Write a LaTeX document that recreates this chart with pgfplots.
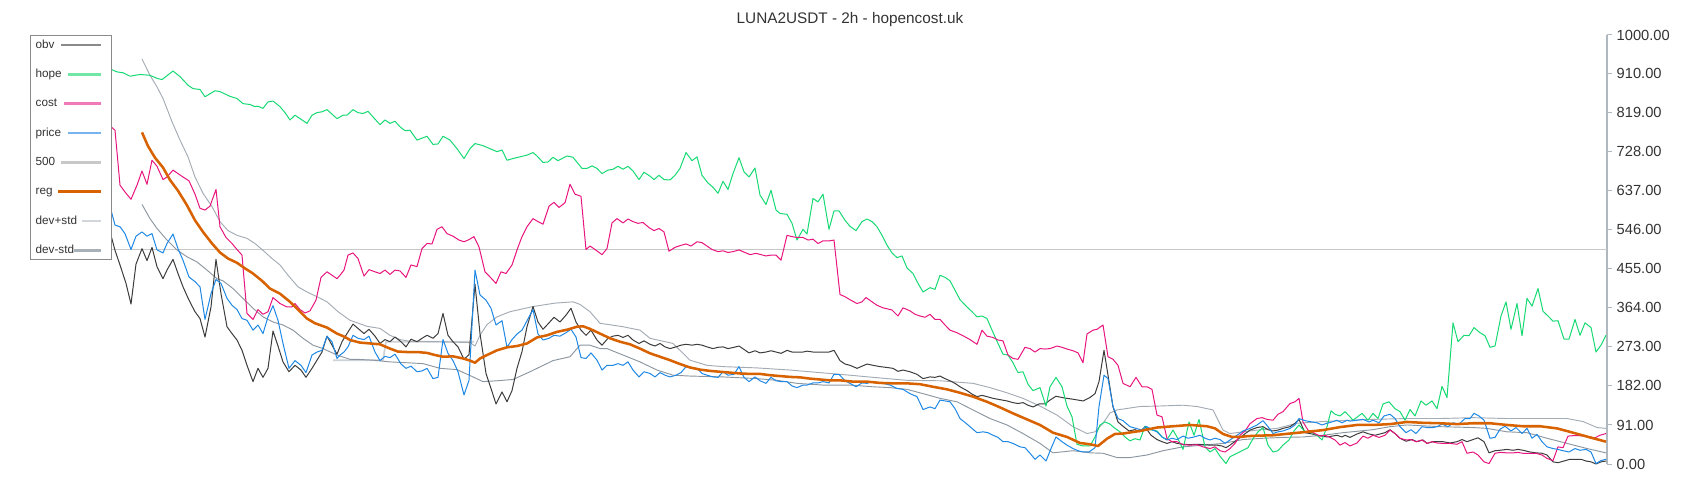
\documentclass[border=0pt]{standalone}
\usepackage{pgfplots}
\pgfplotsset{compat=1.18}
\usepackage{fontspec}
\setmainfont{Liberation Sans}

\definecolor{obvc}{HTML}{3C3C3C}
\definecolor{hopec}{HTML}{17D973}
\definecolor{costc}{HTML}{E8157F}
\definecolor{pricec}{HTML}{1E88E5}
\definecolor{regc}{HTML}{D96200}
\definecolor{fivec}{HTML}{C8C8C8}
\definecolor{upc}{HTML}{A3ABB3}
\definecolor{dnc}{HTML}{8C96A0}
\definecolor{midc}{HTML}{CDD2D7}
\definecolor{axisc}{HTML}{B0B8BF}
\definecolor{textc}{HTML}{333333}
\definecolor{legc}{HTML}{8A8A8A}
% lighter legend samples
\definecolor{obvl}{HTML}{8A8A8A}
\definecolor{hopel}{HTML}{72E6A4}
\definecolor{costl}{HTML}{EF7AB7}
\definecolor{pricel}{HTML}{77B3EE}
\definecolor{upl}{HTML}{D2D6DA}
\definecolor{dnl}{HTML}{A9B1B8}

% legend sample: line drawn to the right of the label, ending at a fixed x
\pgfplotsset{
  legline/.style 2 args={legend image code/.code={%
    \draw[line width=2pt,#1,overlay] (-#2,0pt) -- (0pt,0pt);
    \path[draw=none,fill=none] (0pt,-1pt) rectangle (4.3pt,1pt);}},
}

\begin{document}
\begin{tikzpicture}
\path[use as bounding box] (0pt,-27pt) rectangle (1275pt,348pt);
\begin{axis}[
  at={(0pt,0pt)}, anchor=south west,
  scale only axis, width=1205.25pt, height=321.75pt,
  xmin=0, xmax=1607, ymin=0, ymax=1000,
  axis x line=none, axis y line*=right,
  y axis line style={draw=axisc, line width=1.1pt, -},
  ytick={0,91,182,273,364,455,546,637,728,819,910,1000},
  yticklabels={0.00,91.00,182.00,273.00,364.00,455.00,546.00,637.00,728.00,819.00,910.00,1000.00},
  tick align=outside, major tick length=3.75pt,
  ytick style={draw=axisc, line width=0.75pt},
  yticklabel style={font=\fontsize{11}{13}\selectfont, text=textc, anchor=west},
  clip=false,
  legend cell align=left, legend plot pos=right,
  legend style={at={(0.0187,1.0)}, anchor=north west, draw=legc, line width=0.9pt,
    fill=white, inner xsep=3.75pt, inner ysep=2.85pt, row sep=13.7pt, column sep=18pt,
    font=\fontsize{8.8}{10}\selectfont, text=textc,
    nodes={inner sep=0pt, text height=6.5pt, text depth=1.8pt}},
  every axis plot/.append style={line join=round},
]
% horizontal 500 level
\addplot[fivec, line width=1.2pt, forget plot] coordinates {(96,500) (1607,500)};

% light step line
\addplot[midc, line width=1.3pt, forget plot] coordinates {
(333,242) (383,242) (386,285) (474,285)};

% upper band
\addplot[upc, line width=0.7pt, forget plot] coordinates {
(142,944) (150,906) (157,879) (163,852) (172,798) (180,755) (188,716) (195,669)
(203,631) (212,600) (220,565) (228,544) (237,533) (247,526) (255,514) (263,498)
(272,479) (280,464) (288,440) (298,413) (307,401) (317,390) (327,378) (338,355)
(350,335) (367,321) (380,316) (390,300) (400,290) (410,286) (440,285) (470,283)
(475,275) (480,300) (487,325) (497,343) (510,355) (533,367) (555,375) (573,378)
(580,372) (590,355) (600,328) (623,320) (640,312) (650,293) (673,281) (690,242)
(707,230) (723,227) (757,224) (790,219) (850,207) (873,202) (907,195) (940,194)
(973,188) (990,178) (1007,166) (1023,153) (1040,135) (1057,114) (1073,87) (1087,71)
(1095,75) (1103,95) (1110,119) (1117,126) (1140,134) (1157,135) (1183,137) (1197,134)
(1213,126) (1223,79) (1230,71) (1243,75) (1257,79) (1277,83) (1297,95) (1323,99)
(1350,102) (1373,104) (1407,106) (1440,106) (1473,108) (1507,106) (1540,106) (1567,106)
(1583,99) (1597,85) (1606,83)};

% lower band
\addplot[dnc, line width=0.7pt, forget plot] coordinates {
(142,605) (150,572) (157,549) (167,522) (177,499) (187,483) (197,471) (207,452)
(217,432) (223,427) (233,409) (243,386) (253,363) (263,343) (273,331) (283,324)
(293,312) (303,293) (313,277) (323,269) (337,254) (350,244) (357,244) (373,242)
(390,238) (407,236) (423,234) (440,223) (457,220) (473,203) (483,192) (497,194)
(513,197) (530,215) (553,241) (570,250) (580,277) (590,277) (600,269) (607,269)
(623,254) (640,238) (657,219) (673,207) (690,205) (723,203) (757,199) (777,195)
(797,188) (823,184) (850,184) (873,180) (890,178) (907,174) (923,164) (940,153)
(957,145) (973,126) (990,106) (1007,91) (1023,71) (1040,48) (1053,26) (1073,31)
(1090,26) (1103,25) (1117,15) (1130,15) (1147,21) (1163,31) (1183,40) (1203,44)
(1223,48) (1243,57) (1263,60) (1283,62) (1303,63) (1323,67) (1343,73) (1373,80)
(1390,87) (1407,91) (1440,87) (1473,85) (1487,83) (1507,75) (1527,73) (1547,60)
(1567,48) (1587,36) (1606,26)};

% obv
\addplot[obvc, line width=0.75pt, forget plot] coordinates {
(96,610) (103,575) (111,533) (115,498) (120,464) (126,421) (131,373) (136,466)
(142,502) (147,474) (152,505) (157,460) (163,432) (167,452) (173,477) (178,444)
(183,413) (189,382) (195,355) (200,339) (205,296) (211,366) (216,477) (221,397)
(227,320) (232,304) (237,289) (242,265) (247,230) (253,192) (258,223) (263,202)
(268,223) (273,310) (278,275) (283,238) (289,215) (295,230) (301,219) (306,202)
(312,223) (317,242) (322,261) (327,298) (332,277) (337,256) (342,285) (347,304)
(353,326) (358,316) (364,304) (369,314) (375,298) (380,281) (385,290) (390,285)
(395,296) (401,285) (406,273) (411,291) (417,285) (422,293) (427,300) (433,293)
(438,304) (443,351) (448,300) (453,285) (458,273) (464,244) (469,255) (475,419)
(480,304) (486,211) (491,176) (496,140) (502,168) (507,145) (512,171) (517,223)
(522,262) (527,320) (533,367) (538,331) (543,314) (549,329) (554,342) (560,331)
(566,347) (571,363) (576,331) (581,312) (586,300) (591,312) (597,289) (602,277)
(608,293) (613,298) (618,300) (623,295) (628,300) (633,289) (639,281) (644,287)
(650,279) (655,275) (660,281) (665,273) (670,269) (676,273) (681,277) (686,279)
(692,277) (697,279) (702,277) (707,273) (713,269) (718,272) (723,273) (728,269)
(734,272) (739,275) (744,267) (749,259) (755,264) (760,259) (766,261) (771,264)
(776,261) (781,258) (787,265) (792,261) (797,261) (803,261) (807,263) (813,261)
(818,261) (823,261) (829,261) (834,265) (840,241) (845,233) (850,230) (857,223)
(862,228) (867,233) (873,230) (880,227) (887,225) (893,223) (898,216) (903,219)
(910,215) (917,209) (923,199) (930,203) (935,202) (940,205) (945,199) (950,194)
(955,188) (960,180) (967,171) (972,163) (977,157) (982,160) (987,157) (993,153)
(1000,150) (1007,147) (1013,143) (1018,141) (1023,143) (1028,137) (1033,133) (1039,140)
(1045,140) (1050,149) (1056,158) (1062,155) (1067,153) (1073,151) (1078,149) (1083,147)
(1090,155) (1095,164) (1099,192) (1104,265) (1108,207) (1113,133) (1118,98) (1123,88)
(1129,77) (1135,80) (1140,75) (1145,87) (1151,67) (1157,57) (1162,52) (1167,48)
(1172,52) (1177,48) (1183,46) (1190,45) (1197,46) (1203,45) (1210,44) (1217,44)
(1222,42) (1226,38) (1230,44) (1237,56) (1243,67) (1250,79) (1257,85) (1263,87)
(1268,80) (1273,77) (1278,79) (1283,83) (1290,87) (1295,95) (1299,104) (1305,73)
(1312,70) (1317,67) (1322,65) (1327,63) (1332,65) (1337,67) (1342,63) (1345,67)
(1350,62) (1357,70) (1363,75) (1369,70) (1375,67) (1380,70) (1385,73) (1390,80)
(1395,71) (1400,60) (1406,53) (1412,57) (1417,52) (1423,56) (1427,48) (1433,52)
(1438,52) (1443,52) (1450,49) (1457,52) (1462,57) (1467,52) (1473,57) (1478,61)
(1484,52) (1489,26) (1495,31) (1500,32) (1507,34) (1513,32) (1518,34) (1523,32)
(1530,28) (1536,26) (1542,25) (1547,21) (1553,5) (1558,3) (1564,7) (1570,11)
(1576,11) (1581,11) (1586,7) (1591,5) (1596,0) (1601,5) (1606,7)};

% hope
\addplot[hopec, line width=0.75pt, forget plot] coordinates {
(96,925) (103,918) (111,920) (117,914) (123,912) (130,904) (140,908) (150,906)
(157,899) (162,896) (173,916) (180,903) (188,883) (193,875) (200,873) (205,856)
(215,870) (220,868) (230,857) (237,852) (243,840) (250,838) (255,833) (258,834)
(263,829) (268,844) (273,846) (280,833) (285,819) (290,802) (295,813) (302,802)
(307,794) (312,813) (317,819) (322,821) (327,826) (337,805) (343,813) (347,813)
(353,826) (358,819) (363,817) (368,822) (373,809) (380,791) (385,802) (390,794)
(395,799) (400,786) (405,777) (410,778) (417,755) (427,764) (433,745) (438,746)
(443,764) (450,755) (457,735) (464,712) (470,735) (475,747) (483,742) (490,735)
(497,728) (502,732) (507,708) (513,712) (520,716) (527,720) (533,726) (537,718)
(543,703) (548,704) (553,715) (558,707) (567,718) (573,715) (582,689) (587,689)
(592,695) (597,689) (602,677) (608,685) (613,687) (618,694) (623,687) (628,694)
(633,683) (639,663) (644,680) (650,671) (654,663) (659,673) (664,663) (670,662)
(675,673) (680,689) (686,726) (692,707) (697,716) (702,673) (708,655) (713,645)
(718,631) (723,659) (728,640) (733,677) (739,714) (744,681) (749,669) (755,690)
(760,627) (766,605) (771,638) (776,592) (780,584) (787,582) (792,561) (797,522)
(803,547) (807,536) (813,619) (818,611) (823,629) (829,547) (834,590) (839,590)
(845,568) (850,554) (856,544) (862,565) (867,571) (872,565) (877,553) (882,533)
(887,510) (892,492) (897,481) (902,485) (907,457) (913,444) (918,421) (923,401)
(930,411) (935,407) (940,440) (945,435) (950,427) (955,405) (960,383) (967,366)
(972,355) (977,343) (982,345) (987,339) (992,312) (998,281) (1003,256) (1008,254)
(1013,236) (1018,213) (1023,215) (1028,186) (1033,171) (1040,178) (1046,135) (1050,180)
(1056,202) (1062,180) (1067,135) (1072,110) (1077,46) (1083,42) (1090,42) (1095,63)
(1100,91) (1105,98) (1110,93) (1115,83) (1120,75) (1125,63) (1130,54) (1135,59)
(1140,56) (1145,88) (1150,80) (1157,77) (1162,63) (1167,57) (1173,79) (1177,63)
(1183,34) (1189,98) (1194,67) (1199,104) (1205,40) (1210,28) (1215,36) (1220,18)
(1226,1) (1230,17) (1237,25) (1243,32) (1248,38) (1253,59) (1258,75) (1263,85)
(1268,44) (1273,28) (1278,31) (1283,44) (1289,56) (1294,77) (1299,91) (1305,75)
(1312,73) (1317,67) (1322,56) (1327,87) (1331,124) (1335,116) (1340,112) (1345,122)
(1350,110) (1353,102) (1362,118) (1368,102) (1373,118) (1378,106) (1383,140) (1389,145)
(1395,129) (1400,122) (1405,102) (1410,127) (1415,112) (1421,147) (1426,137) (1432,147)
(1437,129) (1442,181) (1447,155) (1453,329) (1458,285) (1464,300) (1469,299) (1474,318)
(1480,306) (1485,299) (1490,272) (1495,275) (1501,345) (1506,378) (1511,314) (1517,374)
(1522,299) (1527,386) (1532,368) (1538,409) (1543,356) (1548,345) (1553,333) (1558,334)
(1564,291) (1569,291) (1575,337) (1580,300) (1585,329) (1591,318) (1596,261) (1601,277)
(1606,300)};

% cost
\addplot[costc, line width=0.75pt, forget plot] coordinates {
(96,830) (103,800) (111,786) (115,778) (120,650) (125,634) (131,617) (137,650)
(142,683) (147,652) (152,708) (157,694) (163,663) (167,669) (173,685) (178,677)
(183,669) (189,660) (195,629) (200,596) (205,592) (210,601) (216,640) (220,553)
(226,528) (232,514) (237,500) (242,487) (247,351) (253,337) (258,360) (263,349)
(268,355) (273,388) (280,374) (287,366) (292,366) (295,374) (300,360) (305,352)
(310,357) (316,382) (321,435) (327,448) (332,440) (337,432) (340,440) (344,452)
(348,487) (353,492) (358,479) (364,438) (369,453) (375,448) (380,444) (385,452)
(390,442) (395,452) (400,450) (406,435) (411,464) (417,460) (422,502) (427,514)
(432,513) (437,547) (442,553) (447,537) (453,531) (459,522) (464,518) (469,523)
(474,530) (479,506) (485,448) (490,436) (496,421) (501,448) (506,444) (512,464)
(517,499) (522,530) (527,553) (533,572) (538,565) (543,559) (549,601) (554,610)
(559,598) (565,609) (570,652) (575,629) (581,624) (586,500) (590,508) (595,500)
(602,488) (607,502) (612,562) (617,572) (623,562) (628,571) (633,565) (638,561)
(643,563) (649,551) (654,544) (659,549) (664,541) (669,496) (675,505) (680,509)
(686,513) (691,508) (697,518) (702,516) (707,508) (712,500) (718,495) (723,497)
(728,493) (733,495) (739,499) (745,493) (750,488) (756,491) (761,488) (766,485)
(771,487) (776,487) (781,475) (787,533) (792,530) (797,528) (803,528) (808,522)
(813,524) (818,514) (823,520) (829,520) (834,522) (840,395) (845,390) (850,383)
(857,374) (862,378) (866,388) (872,378) (877,370) (883,364) (892,359) (898,345)
(903,364) (910,357) (915,349) (920,345) (925,342) (930,349) (935,337) (940,337)
(945,324) (950,312) (957,306) (963,299) (970,290) (977,279) (982,312) (987,298)
(993,295) (998,289) (1003,287) (1008,254) (1013,246) (1018,244) (1025,272) (1030,269)
(1035,261) (1040,269) (1045,268) (1050,269) (1057,275) (1062,272) (1067,268) (1073,264)
(1078,259) (1083,236) (1087,303) (1093,312) (1097,314) (1103,324) (1108,250) (1113,244)
(1118,230) (1123,188) (1130,180) (1136,202) (1142,180) (1147,180) (1152,174) (1157,114)
(1162,110) (1167,59) (1172,52) (1177,52) (1183,45) (1190,44) (1197,45) (1203,40)
(1210,36) (1215,40) (1220,31) (1225,28) (1230,36) (1235,48) (1240,67) (1245,77)
(1250,94) (1257,106) (1262,108) (1267,104) (1273,102) (1278,116) (1283,122) (1290,141)
(1295,145) (1299,153) (1303,98) (1308,79) (1313,73) (1320,65) (1325,67) (1330,62)
(1335,56) (1340,44) (1345,50) (1350,42) (1357,49) (1363,65) (1368,60) (1373,67)
(1379,62) (1385,67) (1390,79) (1395,71) (1400,60) (1406,56) (1411,57) (1416,52)
(1422,56) (1427,48) (1432,52) (1437,49) (1443,48) (1450,48) (1457,46) (1462,52)
(1467,25) (1473,28) (1478,21) (1484,5) (1489,1) (1495,25) (1500,27) (1507,26)
(1513,26) (1518,27) (1523,25) (1530,25) (1536,25) (1542,21) (1547,13) (1553,8)
(1558,40) (1563,38) (1568,65) (1573,66) (1579,66) (1585,65) (1590,63) (1595,61)
(1600,67) (1606,71)};

% price
\addplot[pricec, line width=0.75pt, forget plot] coordinates {
(96,640) (103,610) (111,592) (115,557) (120,553) (125,537) (131,500) (136,531)
(142,541) (147,531) (152,537) (157,499) (163,492) (167,514) (173,536) (178,502)
(183,475) (189,436) (195,425) (200,413) (205,337) (211,397) (216,430) (221,421)
(227,386) (232,370) (237,360) (242,339) (247,335) (253,312) (258,324) (263,304)
(268,343) (273,369) (278,335) (283,281) (289,223) (295,241) (301,230) (306,213)
(312,254) (317,261) (322,265) (327,298) (332,285) (337,246) (340,254) (344,261)
(348,273) (353,300) (358,293) (364,290) (369,298) (375,261) (380,241) (385,251)
(390,248) (395,256) (401,233) (406,223) (411,228) (417,215) (422,217) (427,223)
(433,199) (438,202) (443,290) (448,258) (453,241) (458,215) (464,161) (469,195)
(475,452) (480,394) (486,382) (491,363) (496,324) (502,334) (507,272) (512,290)
(517,303) (522,312) (527,334) (533,360) (538,303) (543,289) (549,293) (554,300)
(560,298) (566,306) (571,314) (576,296) (581,248) (586,246) (591,259) (597,242)
(602,219) (607,230) (613,230) (618,234) (623,230) (628,238) (633,219) (639,203)
(644,215) (650,211) (655,203) (660,213) (665,207) (670,203) (676,207) (681,213)
(686,227) (692,223) (697,223) (702,211) (707,207) (713,203) (718,202) (723,215)
(728,207) (734,209) (739,227) (744,202) (749,192) (755,203) (760,194) (766,188)
(771,202) (776,194) (781,192) (787,192) (792,182) (797,178) (803,184) (807,184)
(813,189) (818,189) (823,192) (829,189) (834,209) (839,209) (845,194) (850,188)
(856,180) (862,189) (867,188) (872,192) (877,188) (883,188) (890,184) (897,176)
(903,174) (910,164) (917,157) (923,127) (930,133) (935,129) (940,149) (945,147)
(950,145) (955,129) (960,106) (967,93) (972,83) (977,73) (983,75) (988,73)
(993,67) (998,62) (1003,52) (1008,52) (1013,48) (1020,40) (1025,38) (1030,25)
(1035,11) (1040,21) (1046,7) (1051,36) (1056,63) (1062,52) (1067,44) (1073,36)
(1078,31) (1083,28) (1089,28) (1095,38) (1099,134) (1104,207) (1108,199) (1113,134)
(1118,106) (1123,101) (1130,87) (1136,83) (1142,79) (1146,88) (1152,80) (1157,75)
(1162,63) (1167,56) (1172,60) (1177,57) (1183,65) (1188,60) (1194,63) (1200,67)
(1205,60) (1210,56) (1215,60) (1220,57) (1225,48) (1230,56) (1237,67) (1243,77)
(1250,83) (1257,91) (1263,101) (1268,87) (1273,71) (1278,75) (1283,77) (1290,83)
(1295,91) (1299,106) (1305,101) (1312,98) (1317,96) (1322,91) (1327,95) (1332,98)
(1337,102) (1342,96) (1347,102) (1350,100) (1357,102) (1363,104) (1369,98) (1373,102)
(1379,96) (1384,112) (1390,116) (1395,106) (1400,87) (1406,73) (1411,80) (1416,71)
(1422,87) (1427,85) (1433,85) (1437,87) (1442,93) (1448,87) (1453,96) (1459,93)
(1465,106) (1470,106) (1474,118) (1479,112) (1484,102) (1490,60) (1495,62) (1500,81)
(1505,88) (1511,77) (1516,85) (1522,71) (1527,83) (1532,60) (1537,69) (1542,52)
(1547,40) (1553,36) (1558,34) (1563,31) (1569,28) (1575,36) (1580,32) (1586,34)
(1591,28) (1596,1) (1601,8) (1606,11)};

% reg
\addplot[regc, line width=1.9pt, forget plot] coordinates {
(142,773) (148,741) (155,714) (163,691) (170,662) (178,637) (187,603) (195,568)
(203,541) (212,514) (220,493) (228,479) (237,469) (245,456) (253,444) (262,427)
(270,409) (280,397) (290,378) (298,360) (307,339) (315,328) (327,318) (337,304)
(345,296) (350,289) (360,283) (370,281) (380,279) (390,269) (398,262) (407,261)
(417,261) (427,259) (435,254) (443,250) (453,251) (463,246) (470,241) (475,236)
(480,246) (487,254) (497,265) (507,272) (517,275) (527,281) (537,295) (547,300)
(557,308) (567,313) (577,320) (583,321) (590,315) (600,304) (610,293) (620,285)
(630,279) (640,269) (650,258) (660,250) (670,242) (680,233) (690,225) (700,220)
(710,217) (720,215) (730,213) (740,211) (750,210) (760,210) (770,207) (780,205)
(790,203) (800,202) (810,199) (820,197) (830,195) (840,195) (853,192) (867,192)
(880,189) (893,188) (907,188) (920,186) (933,180) (947,174) (960,166) (973,157)
(987,145) (1000,132) (1013,118) (1027,104) (1040,91) (1053,73) (1067,63) (1080,49)
(1090,46) (1098,42) (1107,59) (1115,70) (1123,71) (1140,77) (1157,85) (1173,88)
(1190,91) (1207,88) (1215,83) (1223,70) (1232,63) (1240,63) (1248,65) (1257,66)
(1273,67) (1290,71) (1307,75) (1323,79) (1340,86) (1357,91) (1373,91) (1390,93)
(1407,98) (1423,96) (1440,95) (1457,93) (1473,95) (1490,95) (1507,91) (1523,88)
(1540,88) (1557,83) (1573,73) (1590,62) (1606,52)};

\addlegendimage{legline={draw=obvl}{30pt}}
\addlegendentry{obv}
\addlegendimage{legline={draw=hopel}{25pt}}
\addlegendentry{hope}
\addlegendimage{legline={draw=costl}{27.5pt}}
\addlegendentry{cost}
\addlegendimage{legline={draw=pricel}{25pt}}
\addlegendentry{price}
\addlegendimage{legline={draw=fivec}{30pt}}
\addlegendentry{500}
\addlegendimage{legline={draw=regc,line width=2.2pt}{32pt}}
\addlegendentry{reg}
\addlegendimage{legline={draw=upl}{14pt}}
\addlegendentry{dev+std}
\addlegendimage{legline={draw=dnl}{20pt}}
\addlegendentry{dev-std}
\end{axis}
\node[font=\fontsize{11.5}{13}\selectfont, text=textc] at (637.5pt,333pt) {LUNA2USDT - 2h - hopencost.uk};
\end{tikzpicture}
\end{document}
